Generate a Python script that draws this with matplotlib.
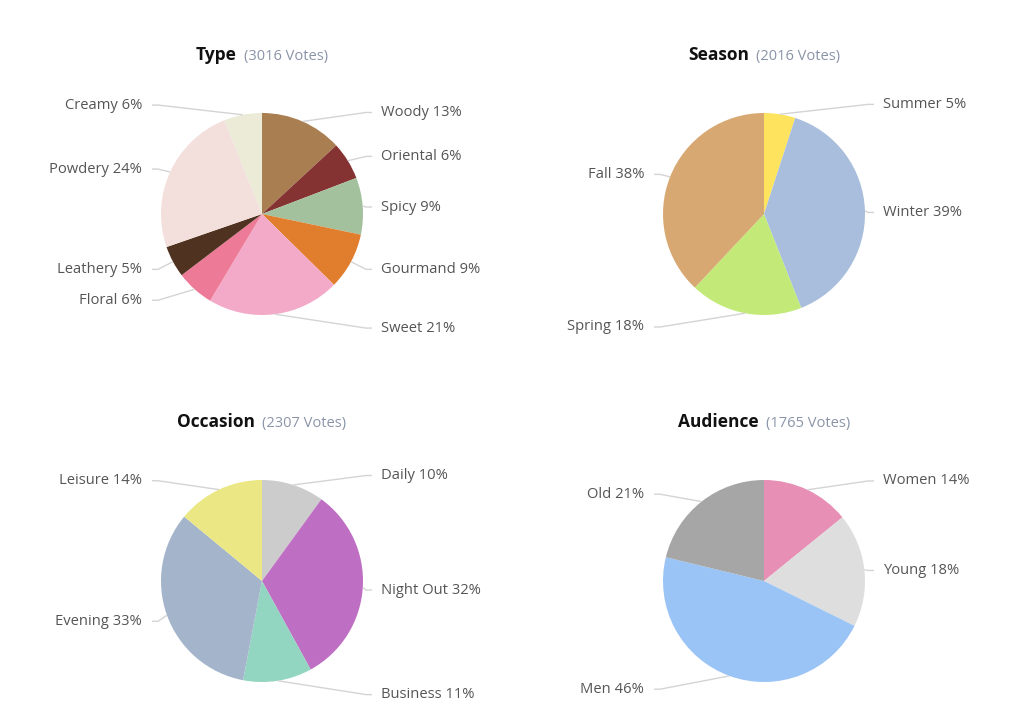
import numpy as np
import matplotlib.pyplot as plt
from matplotlib.offsetbox import TextArea, HPacker, AnnotationBbox

plt.rcParams["font.family"] = ["Open Sans", "DejaVu Sans"]

# --------------------------------------------------
# Data
# --------------------------------------------------
type_labels = ["Woody", "Oriental", "Spicy", "Gourmand", "Sweet", "Floral", "Leathery", "Powdery", "Creamy"]
type_pct = [13, 6, 9, 9, 21, 6, 5, 24, 6]
type_colors = ["#a97e50", "#843232", "#a4c19e", "#e17e2e", "#f3aac8", "#ed7a97", "#4f3320", "#f3dfdb", "#ebebd8"]
type_votes = 3016

season_labels = ["Summer", "Winter", "Spring", "Fall"]
season_pct = [5, 39, 18, 38]
season_colors = ["#fde35e", "#a8bedc", "#c3e979", "#d8a872"]
season_votes = 2016

occasion_labels = ["Daily", "Night Out", "Business", "Evening", "Leisure"]
occasion_pct = [10, 32, 11, 33, 14]
occasion_colors = ["#cccccc", "#bf6fc3", "#92d5c0", "#a3b4cb", "#ebe784"]
occasion_votes = 2307

audience_labels = ["Women", "Young", "Men", "Old"]
audience_pct = [14, 18, 46, 21]
audience_colors = ["#e78fb5", "#dedede", "#9ac4f5", "#a6a6a6"]
audience_votes = 1765

W, H = 1024, 727
fig = plt.figure(figsize=(W / 100, H / 100), dpi=100)
ax = fig.add_axes([0, 0, 1, 1])

R = 101
LABEL_R = 113


def draw_pie(cx, cy_top, title, votes, labels, pct, colors):
    cy = H - cy_top
    ax.pie(pct, colors=colors, startangle=90, counterclock=False,
           radius=R, center=(cx, cy), frame=True,
           wedgeprops=dict(linewidth=0))

    # labels with leader lines
    total = sum(pct)
    start = 0.0
    for lab, v in zip(labels, pct):
        mid = (start + v / 2) / total * 2 * np.pi
        start += v
        sx, sy = cx + R * np.sin(mid), cy + R * np.cos(mid)
        ly = cy + LABEL_R * np.cos(mid) - 2
        side = 1 if np.sin(mid) >= 0 else -1
        ax.plot([sx, cx + side * 104, cx + side * 110], [sy, ly, ly],
                color="#d4d4d4", lw=1, solid_capstyle="butt")
        ax.text(cx + 119 if side > 0 else cx - 120, ly,
                f"{lab} {v}%", ha="left" if side > 0 else "right",
                va="center", fontsize=10.6, color="#555555")

    title_box = HPacker(children=[
        TextArea(title, textprops=dict(fontsize=12.5, fontweight="bold", color="#111111")),
        TextArea(f"({votes} Votes)", textprops=dict(fontsize=10.5, color="#8a94a8")),
    ], align="baseline", pad=0, sep=5)
    ab = AnnotationBbox(title_box, (cx, cy + 159), frameon=False,
                        box_alignment=(0.5, 0.5))
    ax.add_artist(ab)


draw_pie(262, 214, "Type", type_votes, type_labels, type_pct, type_colors)
draw_pie(764, 214, "Season", season_votes, season_labels, season_pct, season_colors)
draw_pie(262, 581, "Occasion", occasion_votes, occasion_labels, occasion_pct, occasion_colors)
draw_pie(764, 581, "Audience", audience_votes, audience_labels, audience_pct, audience_colors)

ax.set_xlim(0, W)
ax.set_ylim(0, H)
ax.set_aspect("auto")
ax.axis("off")

fig.savefig("out.png", dpi=100, facecolor="white")
